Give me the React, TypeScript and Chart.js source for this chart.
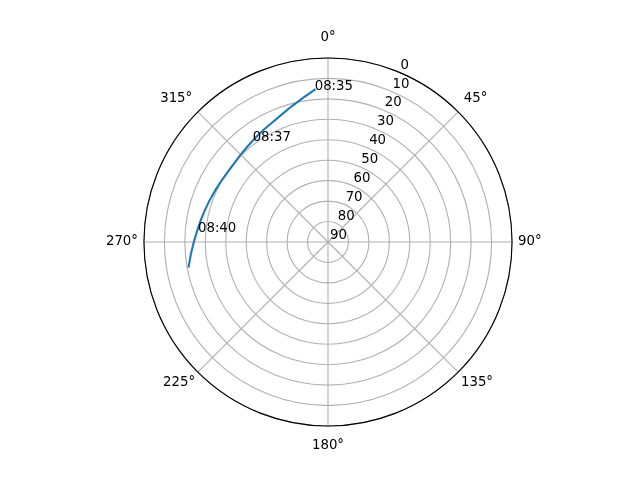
import React, { useEffect, useRef } from "react";
import { Chart, registerables } from "chart.js";

Chart.register(...registerables);

// azimuth categories every 5 degrees, clockwise from north
const azimuthStep = 5;
const azimuths = Array.from({ length: 360 / azimuthStep }, (_, i) => i * azimuthStep);
const angleTicks = [0, 45, 90, 135, 180, 225, 270, 315];
const radialTicks = [0, 10, 20, 30, 40, 50, 60, 70, 80, 90];

// satellite track: elevation (deg) read at each azimuth
const trackAzimuth = [260, 265, 270, 275, 280, 285, 290, 295, 300, 305, 310, 315, 320, 325, 330, 335, 340, 345, 350, 355];
const trackElevation = [20.8, 22.7, 24.4, 25.8, 26.9, 27.9, 28.7, 29.4, 29.9, 30.2, 30.1, 29.6, 28.9, 27.9, 26.8, 25.5, 23.7, 21.3, 18.6, 15.3];

// time marks along the track
const markTimes = ["08:35", "08:37", "08:40"];
const markAzimuth = [355, 323.4, 274.6];
const markElevation = [15.3, 28.2, 26.2];

const FONT = "DejaVu Sans";

const polarExtras = {
  id: "polarExtras",
  afterDraw(chart: any) {
    const scale = chart.scales.r;
    const ctx = chart.ctx;
    ctx.save();
    // outer spine
    ctx.beginPath();
    ctx.arc(scale.xCenter, scale.yCenter, scale.drawingArea, 0, Math.PI * 2);
    ctx.strokeStyle = "#000000";
    ctx.lineWidth = 1.1;
    ctx.stroke();
    ctx.font = `13.3px "${FONT}"`;
    ctx.fillStyle = "#000000";
    ctx.textAlign = "left";
    ctx.textBaseline = "alphabetic";
    // radial tick labels at 22.5 degrees
    radialTicks.forEach((v) => {
      const p = scale.getPointPosition(22.5 / azimuthStep, scale.getDistanceFromCenterForValue(v));
      ctx.fillText(String(v), p.x + 2, p.y - 3.3);
    });
    // time annotations
    markTimes.forEach((t, i) => {
      const p = scale.getPointPositionForValue(markAzimuth[i] / azimuthStep, markElevation[i]);
      ctx.fillText(t, p.x, p.y);
    });
    ctx.restore();
  },
};

const App = () => {
  const canvasRef = useRef<HTMLCanvasElement>(null);
  const chartRef = useRef<Chart | null>(null);

  useEffect(() => {
    if (!canvasRef.current) return;
    const data = azimuths.map((az) => {
      const k = trackAzimuth.indexOf(az);
      return k >= 0 ? trackElevation[k] : null;
    });
    chartRef.current = new Chart(canvasRef.current, {
      type: "radar",
      data: {
        labels: azimuths,
        datasets: [
          {
            data,
            borderColor: "#1f77b4",
            borderWidth: 2.1,
            borderCapStyle: "square",
            pointRadius: 0,
            pointHitRadius: 0,
            fill: false,
            spanGaps: false,
            tension: 0,
          },
        ],
      },
      options: {
        responsive: false,
        animation: false,
        layout: { padding: { top: 30, bottom: 26, left: 17, right: 0 } },
        plugins: {
          legend: { display: false },
          tooltip: { enabled: false },
        },
        scales: {
          r: {
            min: 0,
            max: 90,
            reverse: true,
            ticks: { display: false, stepSize: 10 },
            grid: { circular: true, color: "#b0b0b0", lineWidth: 1.1 },
            angleLines: {
              color: (c: any) => (angleTicks.includes(c.index * azimuthStep) ? "#b0b0b0" : "rgba(0,0,0,0)"),
              lineWidth: 1.1,
            },
            pointLabels: {
              display: true,
              color: "#000000",
              font: { family: FONT, size: 13.3 },
              callback: (label: any) => (angleTicks.includes(Number(label)) ? `${label}°` : ""),
              padding: (c: any) => {
                const a = c.index * azimuthStep;
                if (a === 0 || a === 180) return 12;
                if (a === 90 || a === 270) return 6;
                if (a === 45 || a === 315) return 8;
                if (a === 135 || a === 225) return 4;
                return 0;
              },
            },
          },
        },
      },
      plugins: [polarExtras],
    });
    return () => {
      chartRef.current?.destroy();
    };
  }, []);

  return (
    <div style={{ position: "absolute", left: 0, top: 0, width: 640, height: 480, background: "#ffffff" }}>
      <canvas ref={canvasRef} width={640} height={480} />
    </div>
  );
};

export default App;
